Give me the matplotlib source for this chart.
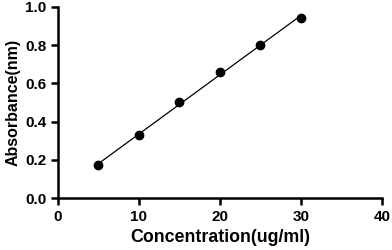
import numpy as np
import matplotlib
matplotlib.use("Agg")
import matplotlib.pyplot as plt

plt.rcParams['font.family'] = ['Liberation Sans', 'DejaVu Sans']
plt.rcParams['font.weight'] = 'bold'

concentration = [5, 10, 15, 20, 25, 30]
absorbance = [0.173, 0.328, 0.503, 0.658, 0.800, 0.944]

fig = plt.figure(figsize=(3.92, 2.5), dpi=100)
ax = fig.add_axes([0.148, 0.208, 0.826, 0.764])

# linear fit line
slope, intercept = np.polyfit(concentration, absorbance, 1)
xs = np.array([concentration[0], concentration[-1]])
ax.plot(xs, slope * xs + intercept, color='black', lw=0.9)
ax.plot(concentration, absorbance, 'o', color='black', ms=6)

ax.set_xlim(0, 40)
ax.set_ylim(0, 1.0)
ax.set_xticks([0, 10, 20, 30, 40])
ax.set_yticks([0.0, 0.2, 0.4, 0.6, 0.8, 1.0])
ax.set_yticklabels(['0.0', '0.2', '0.4', '0.6', '0.8', '1.0'])

for s in ['top', 'right']:
    ax.spines[s].set_visible(False)
for s in ['left', 'bottom']:
    ax.spines[s].set_linewidth(1.8)
ax.tick_params(width=1.8, length=5, labelsize=11, direction='out')
ax.set_xlabel('Concentration(ug/ml)', fontsize=12.8, fontweight='bold', labelpad=4)
ax.set_ylabel('Absorbance(nm)', fontsize=11.5, fontweight='bold', labelpad=3)

fig.savefig('out.png', dpi=100)
